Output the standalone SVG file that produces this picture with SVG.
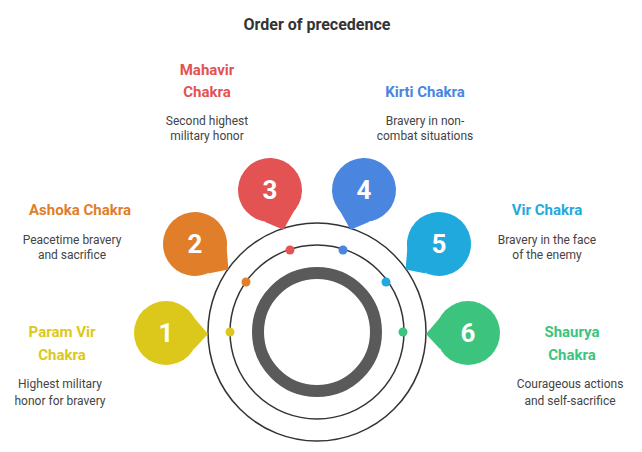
<svg xmlns="http://www.w3.org/2000/svg" width="642" height="452" viewBox="0 0 642 452">
<style>
text{font-family:Roboto,"Liberation Sans",sans-serif}
.t{font-size:15px;font-weight:bold;text-anchor:middle}
.d{font-size:12px;fill:#444;text-anchor:middle}
.n{font-size:26px;font-weight:bold;fill:#fff;text-anchor:middle}
.ring{fill:none;stroke:#333;stroke-width:1.5}
</style>
<defs>
<g id="bub"><circle r="32"/><polygon points="24,-20 42,1 28,16"/></g>
</defs>
<rect width="642" height="452" fill="#fff"/>
<text x="317" y="30" class="t" fill="#333" style="font-size:16px">Order of precedence</text>
<g id="rings">
<circle cx="317" cy="332" r="109" class="ring"/>
<circle cx="317" cy="332" r="87" class="ring"/>
<circle cx="317" cy="332" r="59" fill="none" stroke="#5a5a5a" stroke-width="12"/>
</g>
<g id="n1" fill="#DCC81A">
<use href="#bub" transform="translate(166,333) rotate(0)"/>
<text x="166" y="342" class="n">1</text>
<circle cx="230" cy="332" r="4.5"/>
<text x="62" y="337" class="t">Param Vir</text><text x="62" y="360" class="t">Chakra</text>
<text x="60" y="388" class="d">Highest military</text><text x="60" y="405" class="d">honor for bravery</text>
</g>
<g id="n2" fill="#E07E2A">
<use href="#bub" transform="translate(195,244) rotate(36)"/>
<text x="195" y="253" class="n">2</text>
<circle cx="246" cy="282" r="4.5"/>
<text x="80" y="215" class="t">Ashoka Chakra</text>
<text x="72" y="244" class="d">Peacetime bravery</text><text x="72" y="259" class="d">and sacrifice</text>
</g>
<g id="n3" fill="#E35353">
<use href="#bub" transform="translate(270,190) rotate(70)"/>
<text x="270" y="199" class="n">3</text>
<circle cx="290" cy="250" r="4.5"/>
<text x="207" y="75" class="t">Mahavir</text><text x="207" y="97" class="t">Chakra</text>
<text x="207" y="125" class="d">Second highest</text><text x="207" y="140" class="d">military honor</text>
</g>
<g id="n4" fill="#4A86E0">
<use href="#bub" transform="translate(364,190) rotate(110) scale(1,-1)"/>
<text x="364" y="199" class="n">4</text>
<circle cx="343" cy="250" r="4.5"/>
<text x="425" y="97" class="t">Kirti Chakra</text>
<text x="425" y="125" class="d">Bravery in non-</text><text x="425" y="140" class="d">combat situations</text>
</g>
<g id="n5" fill="#1FA9DC">
<use href="#bub" transform="translate(439,244) rotate(144) scale(1,-1)"/>
<text x="439" y="253" class="n">5</text>
<circle cx="386" cy="282" r="4.5"/>
<text x="547" y="215" class="t">Vir Chakra</text>
<text x="547" y="244" class="d">Bravery in the face</text><text x="547" y="259" class="d">of the enemy</text>
</g>
<g id="n6" fill="#3CC47E">
<use href="#bub" transform="translate(468,333) rotate(180) scale(1,-1)"/>
<text x="468" y="342" class="n">6</text>
<circle cx="403" cy="332" r="4.5"/>
<text x="572" y="337" class="t">Shaurya</text><text x="572" y="360" class="t">Chakra</text>
<text x="570" y="388" class="d">Courageous actions</text><text x="570" y="405" class="d">and self-sacrifice</text>
</g>
</svg>
